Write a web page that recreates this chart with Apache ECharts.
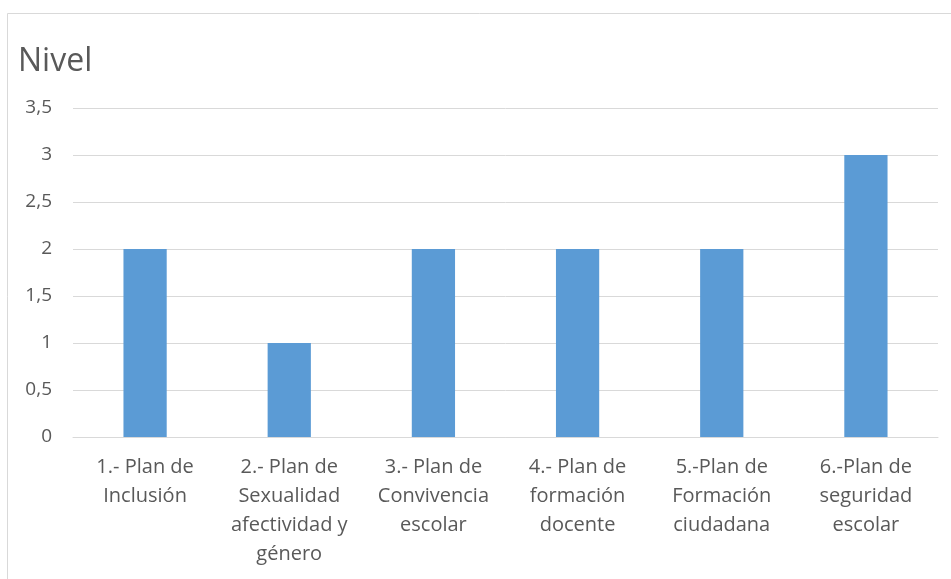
<!DOCTYPE html>
<html><head><meta charset="utf-8">
<script src="https://cdn.jsdelivr.net/npm/echarts@6/dist/echarts.min.js"></script>
<style>html,body{margin:0;padding:0;background:#fff}#c{width:951px;height:579px}</style>
</head><body><div id="c"></div>
<script>
var categories = ["1.- Plan de\nInclusión", "2.- Plan de\nSexualidad\nafectividad y\ngénero", "3.- Plan de\nConvivencia\nescolar", "4.- Plan de\nformación\ndocente", "5.-Plan de\nFormación\nciudadana", "6.-Plan de\nseguridad\nescolar"];
var values = [2, 1, 2, 2, 2, 3];
var yMin = 0, yMax = 3.5, yStep = 0.5;

var chart = echarts.init(document.getElementById('c'), null, {renderer: 'canvas'});
chart.setOption({
  animation: false,
  backgroundColor: '#fff',
  graphic: [{type: 'rect', left: 5, top: 11, shape: {width: 960, height: 600}, style: {fill: 'none', stroke: '#d9d9d9', lineWidth: 1}}],
  title: {text: 'Nivel', left: 13, top: 41, textStyle: {fontFamily: 'Open Sans', fontSize: 32, fontWeight: 'normal', color: '#595959'}},
  grid: {left: 73, right: 13, top: 108, bottom: 142},
  xAxis: {type: 'category', data: categories,
    axisLine: {lineStyle: {color: '#d9d9d9', width: 1}}, axisTick: {show: false},
    axisLabel: {interval: 0, margin: 16, fontFamily: 'Open Sans', fontSize: 20, lineHeight: 29, color: '#595959'}},
  yAxis: {type: 'value', min: yMin, max: yMax, interval: yStep,
    axisLine: {show: false}, axisTick: {show: false},
    splitLine: {lineStyle: {color: '#d9d9d9', width: 1}},
    axisLabel: {margin: 21, fontFamily: 'Open Sans', fontSize: 19, color: '#595959',
      formatter: function (v) { return String(v).replace('.', ','); }}},
  series: [{type: 'bar', data: values, barWidth: '30%', itemStyle: {color: '#5b9bd5'}}]
});
</script></body></html>
